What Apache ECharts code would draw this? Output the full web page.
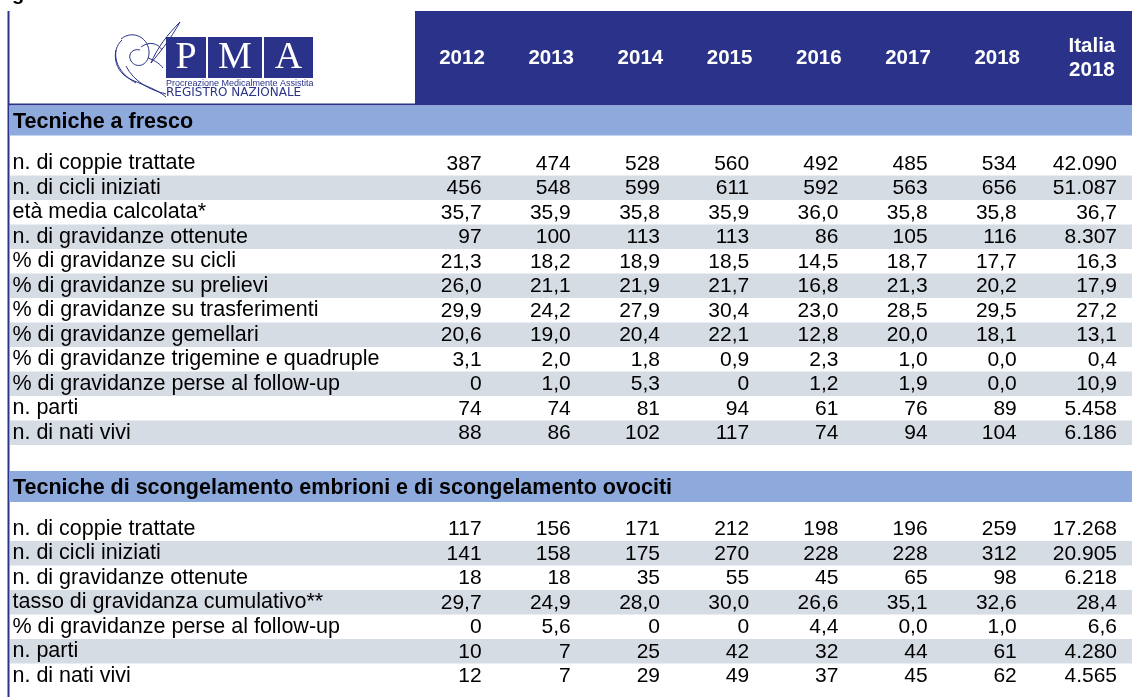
<!DOCTYPE html>
<html><head><meta charset="utf-8">
<script src="https://cdn.jsdelivr.net/npm/echarts@6/dist/echarts.min.js"></script>
<style>html,body{margin:0;padding:0;background:#fff}#c{width:1132px;height:697px}</style>
</head><body><div id="c"></div><script>
// ---------- DATA ----------
const years = ['2012', '2013', '2014', '2015', '2016', '2017', '2018'];
const italyHeader = ['Italia\n2018'];
const section1Title = 'Tecniche a fresco';
const section2Title = 'Tecniche di scongelamento embrioni e di scongelamento ovociti';

const frescoRows = [
  'n. di coppie trattate',
  'n. di cicli iniziati',
  'età media calcolata*',
  'n. di gravidanze ottenute',
  '% di gravidanze su cicli',
  '% di gravidanze su prelievi',
  '% di gravidanze su trasferimenti',
  '% di gravidanze gemellari',
  '% di gravidanze trigemine e quadruple',
  '% di gravidanze perse al follow-up',
  'n. parti',
  'n. di nati vivi'
];
const frescoYearValues = [
  ['387', '474', '528', '560', '492', '485', '534'],
  ['456', '548', '599', '611', '592', '563', '656'],
  ['35,7', '35,9', '35,8', '35,9', '36,0', '35,8', '35,8'],
  ['97', '100', '113', '113', '86', '105', '116'],
  ['21,3', '18,2', '18,9', '18,5', '14,5', '18,7', '17,7'],
  ['26,0', '21,1', '21,9', '21,7', '16,8', '21,3', '20,2'],
  ['29,9', '24,2', '27,9', '30,4', '23,0', '28,5', '29,5'],
  ['20,6', '19,0', '20,4', '22,1', '12,8', '20,0', '18,1'],
  ['3,1', '2,0', '1,8', '0,9', '2,3', '1,0', '0,0'],
  ['0', '1,0', '5,3', '0', '1,2', '1,9', '0,0'],
  ['74', '74', '81', '94', '61', '76', '89'],
  ['88', '86', '102', '117', '74', '94', '104']
];
const frescoItalia = ['42.090', '51.087', '36,7', '8.307', '16,3', '17,9', '27,2', '13,1', '0,4', '10,9', '5.458', '6.186'];

const scongRows = [
  'n. di coppie trattate',
  'n. di cicli iniziati',
  'n. di gravidanze ottenute',
  'tasso di gravidanza cumulativo**',
  '% di gravidanze perse al follow-up',
  'n. parti',
  'n. di nati vivi'
];
const scongYearValues = [
  ['117', '156', '171', '212', '198', '196', '259'],
  ['141', '158', '175', '270', '228', '228', '312'],
  ['18', '18', '35', '55', '45', '65', '98'],
  ['29,7', '24,9', '28,0', '30,0', '26,6', '35,1', '32,6'],
  ['0', '5,6', '0', '0', '4,4', '0,0', '1,0'],
  ['10', '7', '25', '42', '32', '44', '61'],
  ['12', '7', '29', '49', '37', '45', '62']
];
const scongItalia = ['17.268', '20.905', '6.218', '28,4', '6,6', '4.280', '4.565'];

// ---------- STYLE ----------
const DARK = '#2A3389';
const LIGHT = '#8EA9DB';
const GRAY = '#D6DCE4';
const FONT = '"Liberation Sans", Arial, Helvetica, sans-serif';
const ROWH = 24.5;

const chart = echarts.init(document.getElementById('c'), null, {renderer: 'canvas'});

function cellTexts(matrix) {
  const d = [], t = [];
  matrix.forEach((row, r) => row.forEach((v, c) => { d.push([c, r]); t.push(v); }));
  return {d, t};
}
function colTexts(list) {
  return {d: list.map((v, r) => [0, r]), t: list.slice()};
}
function textSeries(xi, yi, cells, pad) {
  return {
    type: 'custom', xAxisIndex: xi, yAxisIndex: yi, z: 4, silent: true,
    data: cells.d,
    renderItem: function (params, api) {
      const p = api.coord([api.value(0), api.value(1)]);
      const w = api.size([1, 0])[0];
      return {
        type: 'text',
        style: {
          text: cells.t[params.dataIndex],
          x: p[0] + w / 2 - pad, y: p[1] + 0.5,
          align: 'right', verticalAlign: 'middle',
          font: '21px ' + FONT, fill: '#000'
        }
      };
    }
  };
}
function bandSeries(xi, yi, rows) {
  return {
    type: 'custom', xAxisIndex: xi, yAxisIndex: yi, z: 1, silent: true,
    data: rows.map((_, r) => [0, r]),
    renderItem: function (params, api) {
      const r = api.value(1);
      if (r % 2 === 0) return {type: 'group', children: []};
      const p = api.coord([0, r]);
      const h = api.size([0, 1])[1];
      return {
        type: 'rect',
        shape: {x: 10, y: p[1] - h / 2, width: api.getWidth() - 10, height: h},
        style: {fill: GRAY}
      };
    }
  };
}

const g1Top = 151, g1H = frescoRows.length * ROWH;
const g2Top = 516.5, g2H = scongRows.length * ROWH;
const yearsLeft = 417.4, yearsW = 624.4;
const itLeft = 1041.8, itW = 90.2;

function yAxisFor(gi, rows, showLabels) {
  return {
    gridIndex: gi, type: 'category', data: rows, inverse: true, z: 6,
    axisLine: {show: false}, axisTick: {show: false}, splitLine: {show: false},
    axisLabel: showLabels ? {
      show: true, interval: 0, align: 'left', margin: yearsLeft - 12.5,
      verticalAlign: 'middle', fontSize: 21.5, fontFamily: FONT, color: '#000'
    } : {show: false}
  };
}
function xAxisFor(gi, cats, showLabels, padLeft) {
  return {
    gridIndex: gi, type: 'category', data: cats, position: 'top', z: 10,
    offset: showLabels ? g1Top - 58 : 0,
    axisLine: {show: false}, axisTick: {show: false}, splitLine: {show: false},
    axisLabel: showLabels ? {
      show: true, interval: 0, margin: 0, verticalAlign: 'middle',
      fontSize: 20.5, fontWeight: 'bold', fontFamily: FONT, color: '#fff', lineHeight: 24,
      padding: [0, 0, 0, padLeft]
    } : {show: false}
  };
}

// logo swirl strokes: [x1, y1, cpx1, cpy1, cpx2, cpy2, x2, y2]
const logoCurves = [
  [122, 40, 111, 50, 113, 72, 132, 80],
  [132, 80, 146, 86, 158, 90, 166, 97],
  [121, 39, 133, 29, 150, 38, 149, 54],
  [149, 54, 148, 66, 136, 69, 131, 61],
  [131, 61, 127, 54, 133, 48, 140, 50],
  [126, 66, 134, 82, 150, 90, 166, 94],
  [116, 50, 114, 64, 122, 75, 136, 83],
  [141, 47, 149, 41, 158, 43, 162, 50],
  [148, 58, 156, 61, 160, 64, 163, 68],
  [180, 22, 168, 34, 157, 48, 151, 63],
  [151, 63, 160, 52, 170, 40, 180, 22]
];

const option = {
  backgroundColor: '#fff',
  animation: false,
  grid: [
    {left: yearsLeft, width: yearsW, top: g1Top, height: g1H},
    {left: itLeft, width: itW, top: g1Top, height: g1H},
    {left: yearsLeft, width: yearsW, top: g2Top, height: g2H},
    {left: itLeft, width: itW, top: g2Top, height: g2H}
  ],
  xAxis: [
    xAxisFor(0, years, true, 0),
    xAxisFor(1, italyHeader, true, 10),
    xAxisFor(2, years, false, 0),
    xAxisFor(3, italyHeader, false, 0)
  ],
  yAxis: [
    yAxisFor(0, frescoRows, true),
    yAxisFor(1, frescoRows, false),
    yAxisFor(2, scongRows, true),
    yAxisFor(3, scongRows, false)
  ],
  graphic: [
    {type: 'text', z: 0, style: {text: 'g', x: 12, y: 4, verticalAlign: 'bottom', font: 'bold 20px ' + FONT, fill: '#000'}},
    {type: 'rect', z: 0, shape: {x: 415, y: 11, width: 717, height: 94}, style: {fill: DARK}},
    {type: 'rect', z: 0, shape: {x: 8, y: 103.5, width: 1124, height: 2}, style: {fill: DARK}},
    {type: 'rect', z: 0, shape: {x: 7.5, y: 11, width: 2, height: 690}, style: {fill: DARK}},
    {type: 'rect', z: 0, shape: {x: 9.5, y: 105.5, width: 1123, height: 30}, style: {fill: LIGHT}},
    {type: 'text', z: 2, style: {text: section1Title, x: 13, y: 122, verticalAlign: 'middle', font: 'bold 21.5px ' + FONT, fill: '#000'}},
    {type: 'rect', z: 0, shape: {x: 9.5, y: 471, width: 1123, height: 31}, style: {fill: LIGHT}},
    {type: 'text', z: 2, style: {text: section2Title, x: 13, y: 488, verticalAlign: 'middle', font: 'bold 21.5px ' + FONT, fill: '#000'}},
    {type: 'rect', z: 1, shape: {x: 166, y: 37, width: 40, height: 41}, style: {fill: DARK}},
    {type: 'rect', z: 1, shape: {x: 208, y: 37, width: 54, height: 41}, style: {fill: DARK}},
    {type: 'rect', z: 1, shape: {x: 264, y: 37, width: 49, height: 41}, style: {fill: DARK}},
    {type: 'text', z: 2, style: {text: 'P', x: 186, y: 58, align: 'center', verticalAlign: 'middle', font: '38px "Liberation Serif", "DejaVu Serif", serif', fill: '#fff'}},
    {type: 'text', z: 2, style: {text: 'M', x: 235, y: 58, align: 'center', verticalAlign: 'middle', font: '38px "Liberation Serif", "DejaVu Serif", serif', fill: '#fff'}},
    {type: 'text', z: 2, style: {text: 'A', x: 288.5, y: 58, align: 'center', verticalAlign: 'middle', font: '38px "Liberation Serif", "DejaVu Serif", serif', fill: '#fff'}},
    {type: 'text', z: 2, style: {text: 'Procreazione Medicalmente Assistita', x: 166, y: 83.5, verticalAlign: 'middle', font: '9px ' + FONT, fill: DARK}},
    {type: 'text', z: 2, style: {text: 'REGISTRO NAZIONALE', x: 166, y: 92.5, verticalAlign: 'middle', font: '12px "DejaVu Sans", ' + FONT, fill: DARK}}
  ].concat(logoCurves.map(c => ({
    type: 'bezierCurve', z: 2,
    shape: {x1: c[0], y1: c[1], cpx1: c[2], cpy1: c[3], cpx2: c[4], cpy2: c[5], x2: c[6], y2: c[7]},
    style: {fill: null, stroke: DARK, lineWidth: 1}
  }))),
  series: [
    bandSeries(0, 0, frescoRows),
    bandSeries(2, 2, scongRows),
    textSeries(0, 0, cellTexts(frescoYearValues), 25),
    textSeries(1, 1, colTexts(frescoItalia), 15),
    textSeries(2, 2, cellTexts(scongYearValues), 25),
    textSeries(3, 3, colTexts(scongItalia), 15)
  ]
};
chart.setOption(option);
</script></body></html>
